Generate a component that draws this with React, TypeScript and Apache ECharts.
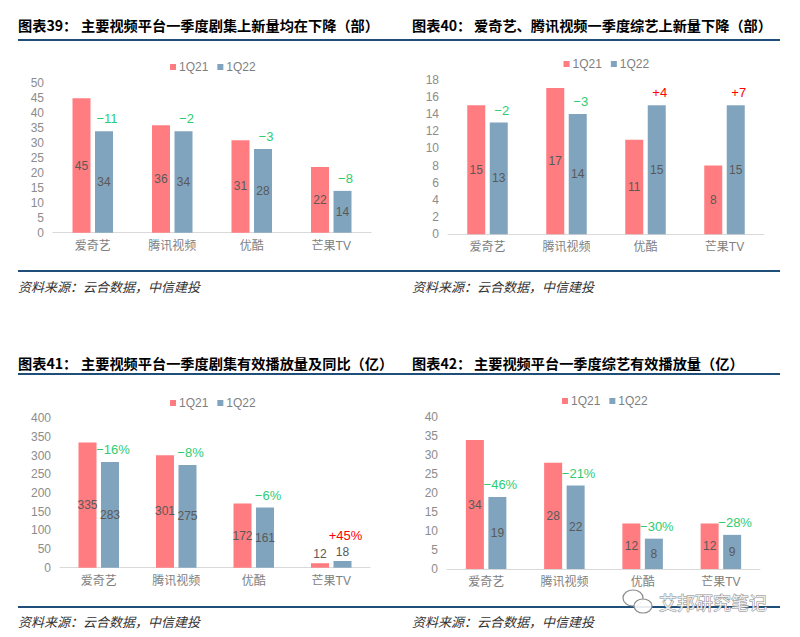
import React, { useEffect, useRef } from "react";
import * as echarts from "echarts";

const categories = ["爱奇艺", "腾讯视频", "优酷", "芒果TV"];
const seriesNames = ["1Q21", "1Q22"];

const p1Q21 = [45, 36, 31, 22];
const p1Q22 = [34, 34, 28, 14];
const p1Chg = ["−11", "−2", "−3", "−8"];

const p2Q21 = [15, 17, 11, 8];
const p2Q22 = [13, 14, 15, 15];
const p2Chg = ["−2", "−3", "+4", "+7"];

const p3Q21 = [335, 301, 172, 12];
const p3Q22 = [283, 275, 161, 18];
const p3Chg = ["−16%", "−8%", "−6%", "+45%"];

const p4Q21 = [34, 28, 12, 12];
const p4Q22 = [19, 22, 8, 9];
const p4Chg = ["−46%", "−21%", "−30%", "−28%"];

const titles = [
  ["图表39：", "主要视频平台一季度剧集上新量均在下降（部）"],
  ["图表40：", "爱奇艺、腾讯视频一季度综艺上新量下降（部）"],
  ["图表41：", "主要视频平台一季度剧集有效播放量及同比（亿）"],
  ["图表42：", "主要视频平台一季度综艺有效播放量（亿）"],
];
const sourceText = "资料来源：云合数据，中信建投";
const watermark = "艾邦研究笔记";

const yMax = [50, 18, 400, 40];
const yInterval = [5, 2, 50, 5];

const RED = "#FF7C80";
const BLUE = "#80A4BE";
const GREEN = "#2ECC71";
const ANN_RED = "#FF0000";
const FONT = "'Liberation Sans', 'Noto Sans CJK SC', sans-serif";
const CJK = "'Noto Sans CJK SC', sans-serif";

const grids = [
  { left: 53, top: 83.4, width: 318, height: 149.3 },
  { left: 448, top: 79.5, width: 316, height: 154.8 },
  { left: 60, top: 418.3, width: 310, height: 149.4 },
  { left: 447, top: 417.3, width: 313, height: 151.7 },
];
const legendPos = [
  { left: 165, top: 56 },
  { left: 558.5, top: 53 },
  { left: 165, top: 392 },
  { left: 557, top: 390 },
];

export default function App() {
  const ref = useRef<HTMLDivElement>(null);
  useEffect(() => {
    if (!ref.current) return;
    const chart = echarts.init(ref.current, undefined, { renderer: "svg" });
    const data = [
      [p1Q21, p1Q22, p1Chg],
      [p2Q21, p2Q22, p2Chg],
      [p3Q21, p3Q22, p3Chg],
      [p4Q21, p4Q22, p4Chg],
    ] as [number[], number[], string[]][];

    const series: any[] = [];
    data.forEach(([a, b, chg], i) => {
      const small = (v: number) => v < yMax[i] * 0.08;
      const common = {
        type: "bar",
        xAxisIndex: i,
        yAxisIndex: i,
        barWidth: 18,
        barGap: "25%",
      };
      series.push({
        ...common,
        name: seriesNames[0],
        data: a.map((v) =>
          small(v) ? { value: v, label: { position: "top", distance: 3 } } : v
        ),
        itemStyle: { color: RED },
        label: { show: true, position: "inside", color: "#595959", fontSize: 12, fontFamily: FONT },
      });
      series.push({
        ...common,
        name: seriesNames[1],
        stack: "s" + i,
        data: b.map((v) =>
          small(v) ? { value: v, label: { position: "top", distance: 3 } } : v
        ),
        itemStyle: { color: BLUE },
        label: { show: true, position: "inside", color: "#595959", fontSize: 12, fontFamily: FONT },
      });
      series.push({
        ...common,
        name: "chg" + i,
        stack: "s" + i,
        data: chg.map((c, j) => ({
          value: 0,
          label: {
            color: c.startsWith("+") ? ANN_RED : GREEN,
            distance: small(b[j]) ? 19 : 6,
          },
        })),
        itemStyle: { color: "rgba(0,0,0,0)" },
        label: {
          show: true,
          position: "top",
          fontSize: 13,
          fontFamily: FONT,
          offset: [3, 0],
          formatter: (p: any) => chg[p.dataIndex],
        },
      });
    });

    const graphic: any[] = [];
    const panelX = [18, 412, 18, 412];
    const lineX = [
      [18, 400],
      [400, 780],
      [18, 400],
      [400, 780],
    ];
    const titleY = [25, 25, 363.3, 362.7];
    const topLineY = [40, 40, 374, 374];
    const botLineY = [271, 271, 607, 607];
    const srcY = [286.5, 286.5, 621, 621];
    const mainX = [81, 474, 81, 474];
    for (let i = 0; i < 4; i++) {
      graphic.push({
        type: "text",
        x: panelX[i],
        y: titleY[i],
        style: {
          text: titles[i][0],
          fontSize: 14.2,
          fontWeight: "bold",
          fontFamily: CJK,
          fill: "#000",
          verticalAlign: "middle",
        },
      });
      graphic.push({
        type: "text",
        x: mainX[i],
        y: titleY[i],
        style: {
          text: titles[i][1],
          fontSize: 14.2,
          fontWeight: "bold",
          fontFamily: CJK,
          fill: "#000",
          verticalAlign: "middle",
        },
      });
      graphic.push({
        type: "line",
        shape: { x1: lineX[i][0], y1: topLineY[i], x2: lineX[i][1], y2: topLineY[i] },
        style: { stroke: "#1F4E79", lineWidth: 2 },
      });
      graphic.push({
        type: "line",
        shape: { x1: lineX[i][0], y1: botLineY[i], x2: lineX[i][1], y2: botLineY[i] },
        style: { stroke: "#1F4E79", lineWidth: 2 },
      });
      graphic.push({
        type: "text",
        x: panelX[i],
        y: srcY[i],
        style: {
          text: sourceText,
          fontSize: 13,
          fontStyle: "italic",
          fontFamily: CJK,
          fill: "#333",
          verticalAlign: "middle",
        },
      });
    }
    // watermark
    graphic.push({
      type: "ellipse",
      shape: { cx: 633, cy: 598, rx: 10, ry: 8 },
      style: { fill: "rgba(255,255,255,0.8)", stroke: "#8c8c8c", lineWidth: 1.2 },
    });
    graphic.push({
      type: "ellipse",
      shape: { cx: 643, cy: 606, rx: 9, ry: 7 },
      style: { fill: "rgba(255,255,255,0.9)", stroke: "#8c8c8c", lineWidth: 1.2 },
    });
    graphic.push({
      type: "text",
      x: 659,
      y: 602,
      style: {
        text: watermark,
        fontSize: 18,
        fontFamily: CJK,
        fill: "rgba(255,255,255,0.85)",
        stroke: "#8c8c8c",
        lineWidth: 1,
        verticalAlign: "middle",
      },
    });

    chart.setOption({
      animation: false,
      backgroundColor: "#ffffff",
      grid: grids,
      legend: legendPos.map((p) => ({
        data: seriesNames,
        left: p.left,
        top: p.top,
        icon: "rect",
        itemWidth: 6,
        itemHeight: 6,
        itemGap: 9,
        selectedMode: false,
        textStyle: { color: "#7f7f7f", fontSize: 12, fontFamily: FONT, padding: [0, 0, 0, -2] },
      })),
      xAxis: grids.map((_, i) => ({
        type: "category",
        gridIndex: i,
        data: categories,
        axisLine: { lineStyle: { color: "#d9d9d9", width: 1 } },
        axisTick: { show: false },
        axisLabel: { color: "#7f7f7f", fontSize: 12, fontFamily: FONT, margin: 7 },
      })),
      yAxis: grids.map((_, i) => ({
        type: "value",
        gridIndex: i,
        min: 0,
        max: yMax[i],
        interval: yInterval[i],
        axisLine: { show: false },
        axisTick: { show: false },
        splitLine: { show: false },
        axisLabel: { color: "#8c8c8c", fontSize: 12, fontFamily: FONT, margin: 9 },
      })),
      series,
      graphic,
    });
    return () => chart.dispose();
  }, []);
  return (
    <div
      ref={ref}
      style={{ position: "fixed", left: 0, top: 0, width: 800, height: 637, background: "#fff" }}
    />
  );
}
